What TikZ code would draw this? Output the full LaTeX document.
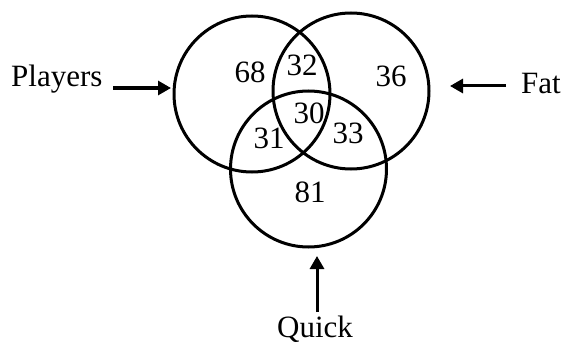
\documentclass[tikz,border=0pt]{standalone}
\usepackage{fontspec}
\setmainfont{Liberation Serif}
\usetikzlibrary{arrows.meta}
\begin{document}
\begin{tikzpicture}[x=1pt,y=-1pt,
  setcircle/.style={circle,draw,line width=3pt,minimum size=156pt,inner sep=0pt},
  lbl/.style={anchor=base,inner sep=0pt,font=\fontsize{31}{36}\selectfont},
  num/.style={anchor=base,inner sep=0pt,font=\fontsize{31}{36}\selectfont},
  pointer/.style={line width=3pt,-{Triangle[length=13pt,width=14pt]}}]
\useasboundingbox (0,0) rectangle (565,345);
\node[setcircle] (P) at (252,94) {};
\node[setcircle] (F) at (351,91) {};
\node[setcircle] (Q) at (308.5,169) {};
\node[num] (n68) at (250,83) {68};
\node[num] (n32) at (302,75) {32};
\node[num] (n36) at (391,87) {36};
\node[num] (n30) at (309,123) {30};
\node[num] (n31) at (269,148) {31};
\node[num] (n33) at (348,143) {33};
\node[num] (n81) at (310,202) {81};
\node[lbl,anchor=base west] (players) at (11,87) {Players};
\node[lbl,anchor=base west] (fat) at (521,93) {Fat};
\node[lbl] (quick) at (315,337) {Quick};
\coordinate (ps) at (113,88);
\coordinate (pe) at (171,88);
\coordinate (fs) at (506,86);
\coordinate (fe) at (450,86);
\coordinate (qs) at (317,312);
\coordinate (qe) at (317,256);
\draw[pointer] (ps) -- (pe);
\draw[pointer] (fs) -- (fe);
\draw[pointer] (qs) -- (qe);
\end{tikzpicture}
\end{document}
